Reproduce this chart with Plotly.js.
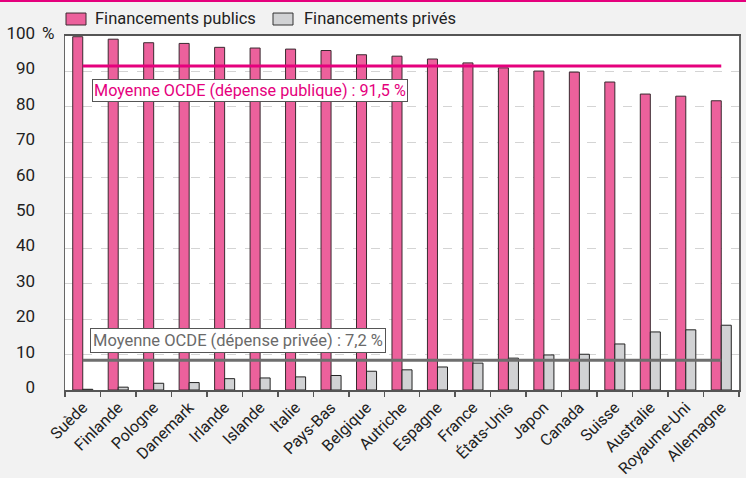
<!DOCTYPE html>
<html>
<head>
<meta charset="utf-8">
<script src="https://cdn.plot.ly/plotly-3.0.1.min.js"></script>
<style>
html,body{margin:0;padding:0;background:#f2f2f2;}
#chart{width:746px;height:478px;}
</style>
</head>
<body>
<div id="chart"></div>
<script>
const countries = ["Suède","Finlande","Pologne","Danemark","Irlande","Islande","Italie","Pays-Bas","Belgique","Autriche","Espagne","France","États-Unis","Japon","Canada","Suisse","Australie","Royaume-Uni","Allemagne"];
const publicFunding = [99.8,99.1,98.1,97.9,96.8,96.6,96.3,95.9,94.7,94.3,93.5,92.4,91.0,90.1,89.8,87.0,83.6,83.0,81.7];
const privateFunding = [0.2,0.8,1.9,2.1,3.2,3.4,3.7,4.1,5.3,5.7,6.5,7.6,9.0,9.9,10.1,13.0,16.4,17.0,18.3];
const avgPublicLine = 91.5;
const avgPrivateLine = 8.4;
const yTickVals = [0,10,20,30,40,50,60,70,80,90,100];
const yTickText = ["0","10","20","30","40","50","60","70","80","90","100"];
const legendNames = ["Financements publics","Financements privés"];
const avgPublicLabel = "Moyenne OCDE (dépense publique) : 91,5 %";
const avgPrivateLabel = "Moyenne OCDE (dépense privée) : 7,2 %";

const FONT = 'Roboto,"Liberation Sans",Arial,sans-serif';
const PINK = '#ec619c';
const GREY = '#d1d2d4';
const MAGENTA = '#e5007d';
const LINEGREY = '#6e6e6e';

// plot area in px
const L = 65, R = 739, T = 36, B = 390.5;
const px = x => (x - L) / (R - L);
const py = y => (B - y) / (B - T);

const traces = [
  {type:'bar', x:countries, y:publicFunding, name:legendNames[0],
   marker:{color:PINK, line:{color:'#3a2a30', width:1}}, hoverinfo:'x+y'},
  {type:'bar', x:countries, y:privateFunding, name:legendNames[1],
   marker:{color:GREY, line:{color:'#222', width:1}}, hoverinfo:'x+y'},
  {type:'scatter', mode:'lines', x:[countries[0], countries[countries.length-1]],
   y:[avgPublicLine, avgPublicLine], line:{color:MAGENTA, width:3}, hoverinfo:'skip'},
  {type:'scatter', mode:'lines', x:[countries[0], countries[countries.length-1]],
   y:[avgPrivateLine, avgPrivateLine], line:{color:LINEGREY, width:3}, hoverinfo:'skip'}
];

const layout = {
  width:746, height:478,
  paper_bgcolor:'#f2f2f2', plot_bgcolor:'#ffffff',
  margin:{l:L, r:746-R, t:T, b:478-B},
  showlegend:false,
  barmode:'group', bargap:0.435, bargroupgap:0,
  font:{family:FONT, size:16, color:'#222'},
  xaxis:{
    type:'category', tickangle:-45, tickfont:{family:FONT, size:16, color:'#222'},
    ticks:'outside', tickson:'boundaries', ticklen:5, tickcolor:'#555', tickwidth:1.5,
    showline:true, linecolor:'#555', linewidth:2, mirror:true,
    showgrid:false, fixedrange:true
  },
  yaxis:{
    range:[0,100], tickvals:yTickVals, ticktext:yTickText,
    tickfont:{family:FONT, size:17, color:'#222'},
    ticks:'', ticklabelstandoff:25, ticklabelshift:-3,
    showgrid:true, gridcolor:'#d4d4d4', griddash:'dash', gridwidth:1,
    showline:true, linecolor:'#666', linewidth:1.5, mirror:true,
    zeroline:false, fixedrange:true
  },
  shapes:[
    {type:'rect', xref:'paper', yref:'paper', x0:px(0), x1:px(746), y0:py(2), y1:py(0),
     fillcolor:MAGENTA, line:{width:0}},
    {type:'rect', xref:'paper', yref:'paper', x0:px(66), x1:px(86), y0:py(25), y1:py(13),
     fillcolor:PINK, line:{color:'#3a2a30', width:1}},
    {type:'rect', xref:'paper', yref:'paper', x0:px(273), x1:px(293), y0:py(25), y1:py(13),
     fillcolor:GREY, line:{color:'#333', width:1}}
  ],
  annotations:[
    {xref:'paper', yref:'paper', x:px(93), y:py(18.5), xanchor:'left', yanchor:'middle',
     text:legendNames[0], showarrow:false, font:{family:FONT, size:16.5, color:'#222'}},
    {xref:'paper', yref:'paper', x:px(302), y:py(18.5), xanchor:'left', yanchor:'middle',
     text:legendNames[1], showarrow:false, font:{family:FONT, size:16.5, color:'#222'}},
    {xref:'paper', yref:'paper', x:px(40), y:py(33), xanchor:'left', yanchor:'middle',
     text:'%', showarrow:false, font:{family:FONT, size:17, color:'#222'}},
    {xref:'paper', yref:'paper', x:px(92), y:py(90.5), xanchor:'left', yanchor:'middle',
     text:avgPublicLabel, showarrow:false, font:{family:FONT, size:16.2, color:MAGENTA},
     bgcolor:'#ffffff', bordercolor:'#555', borderwidth:1, borderpad:1},
    {xref:'paper', yref:'paper', x:px(90), y:py(341), xanchor:'left', yanchor:'middle',
     text:avgPrivateLabel, showarrow:false, font:{family:FONT, size:16.5, color:'#6a6a6a'},
     bgcolor:'#ffffff', bordercolor:'#555', borderwidth:1, borderpad:2}
  ]
};

Plotly.newPlot('chart', traces, layout, {staticPlot:true, displayModeBar:false});
</script>
</body>
</html>
